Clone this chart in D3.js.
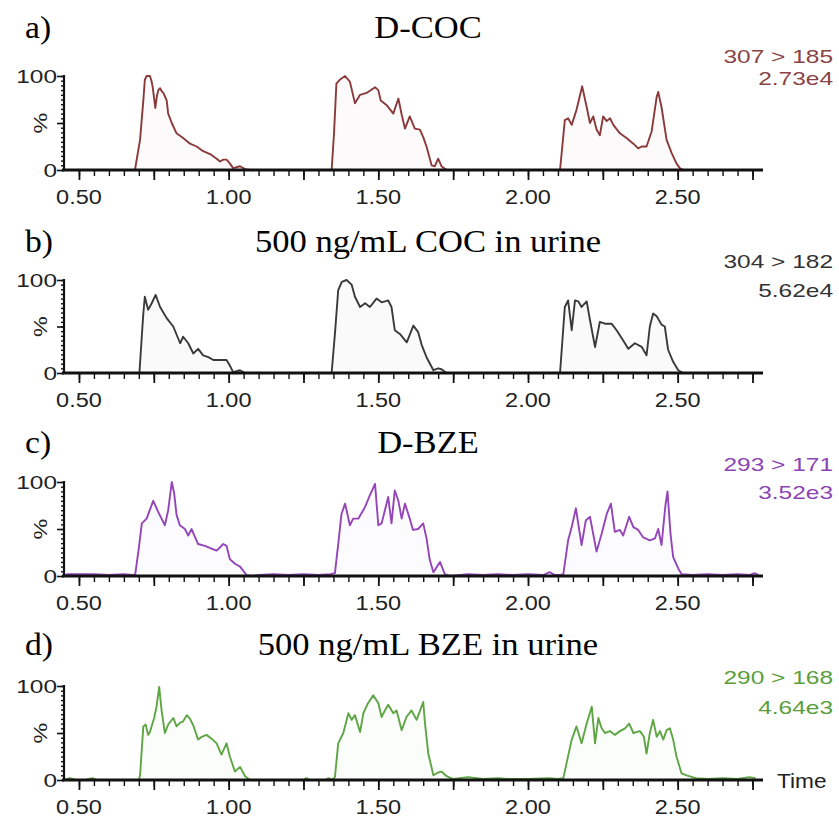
<!DOCTYPE html>
<html>
<head>
<meta charset="utf-8">
<script src="https://cdn.jsdelivr.net/npm/d3@7"></script>
<style>
  body { margin: 0; background: #fff; }
</style>
</head>
<body>
<svg id="chart" width="839" height="818"></svg>
<script>
// labels
const panelLetters = ["a)", "b)", "c)", "d)"];
const panelTitles = ["D-COC", "500 ng/mL COC in urine", "D-BZE", "500 ng/mL BZE in urine"];
const transitions = ["307 > 185", "304 > 182", "293 > 171", "290 > 168"];
const intensities = ["2.73e4", "5.62e4", "3.52e3", "4.64e3"];
const xTickValues = [0.5, 1.0, 1.5, 2.0, 2.5];
const xTickLabels = ["0.50", "1.00", "1.50", "2.00", "2.50"];
const yTickValues = [0, 100];
const yTickLabels = ["0", "100"];

// traces: [time (min), relative intensity (%)]
const traceA = [
  [0.45,0],[0.687,0],[0.704,32],[0.715,74],[0.720,96],[0.726,100],[0.737,100],[0.742,95],[0.746,89],
  [0.755,66],[0.760,78],[0.765,85],[0.771,87],[0.776,84],[0.782,82],[0.793,74],[0.798,60],[0.810,50],
  [0.826,39],[0.848,34],[0.871,28],[0.893,25],[0.915,20],[0.938,17],[0.960,12],[0.971,9],[0.982,11],
  [0.993,11],[1.004,7],[1.015,2],[1.038,4],[1.055,1],[1.071,0],
  [1.344,0],[1.352,39],[1.360,92],[1.371,96],[1.389,100],[1.405,94],[1.422,71],[1.439,80],[1.461,82],
  [1.489,88],[1.500,85],[1.508,74],[1.528,69],[1.550,60],[1.567,76],[1.578,59],[1.589,44],[1.605,57],
  [1.622,44],[1.639,43],[1.650,35],[1.661,25],[1.678,5],[1.689,4],[1.700,12],[1.711,4],[1.728,0],
  [2.107,0],[2.123,53],[2.134,55],[2.146,48],[2.162,64],[2.181,89],[2.196,67],[2.207,50],[2.218,57],
  [2.229,43],[2.240,37],[2.251,57],[2.263,52],[2.274,55],[2.285,48],[2.307,39],[2.329,34],[2.352,28],
  [2.368,23],[2.380,25],[2.396,25],[2.413,41],[2.430,78],[2.435,83],[2.446,67],[2.463,32],[2.480,18],
  [2.496,7],[2.507,2],[2.518,0],[2.775,0]
];
const traceB = [
  [0.45,0],[0.702,0],[0.710,40],[0.715,64],[0.720,82],[0.731,68],[0.743,75],[0.756,84],[0.771,71],
  [0.793,59],[0.815,50],[0.838,32],[0.848,39],[0.865,32],[0.882,21],[0.898,26],[0.915,19],[0.932,17],
  [0.949,14],[0.971,14],[0.993,14],[1.004,8],[1.015,1],[1.038,3],[1.055,0],
  [1.344,0],[1.355,42],[1.366,89],[1.378,98],[1.394,100],[1.411,95],[1.422,82],[1.439,71],[1.456,75],
  [1.472,71],[1.494,80],[1.511,76],[1.533,78],[1.544,71],[1.555,46],[1.572,42],[1.595,33],[1.617,51],
  [1.633,44],[1.645,30],[1.661,17],[1.684,3],[1.700,5],[1.711,4],[1.728,0],
  [2.107,0],[2.123,71],[2.134,78],[2.146,46],[2.157,78],[2.168,77],[2.179,71],[2.196,77],[2.207,57],
  [2.224,28],[2.240,55],[2.257,53],[2.279,53],[2.296,46],[2.318,35],[2.335,26],[2.357,32],[2.380,28],
  [2.396,19],[2.407,50],[2.418,64],[2.430,61],[2.446,52],[2.457,50],[2.468,25],[2.485,12],[2.502,3],
  [2.518,0],[2.775,0]
];
const traceC = [
  [0.45,0],[0.46,2],[0.50,2],[0.55,2],[0.60,1],[0.65,2],[0.68,1],
  [0.688,2],[0.700,30],[0.710,56],[0.726,61],[0.748,80],[0.765,68],[0.787,54],[0.798,70],[0.810,100],
  [0.818,88],[0.826,65],[0.837,54],[0.854,50],[0.865,43],[0.876,50],[0.887,42],[0.898,34],[0.921,32],
  [0.943,29],[0.960,27],[0.982,34],[0.993,32],[1.004,18],[1.021,13],[1.038,10],[1.060,1],[1.077,0],
  [1.10,1],[1.15,2],[1.20,1],[1.25,2],[1.30,1],[1.34,2],
  [1.355,3],[1.366,34],[1.377,66],[1.389,77],[1.405,54],[1.416,61],[1.433,61],[1.455,73],[1.472,86],
  [1.489,98],[1.500,54],[1.511,56],[1.522,70],[1.533,84],[1.544,56],[1.555,91],[1.567,80],[1.578,61],
  [1.589,77],[1.605,61],[1.616,49],[1.633,50],[1.650,56],[1.661,40],[1.672,17],[1.684,4],[1.706,15],
  [1.722,2],[1.739,0],[1.80,2],[1.85,1],[1.90,2],[1.95,1],[2.00,2],[2.05,1],[2.073,4],[2.09,1],[2.105,1],
  [2.118,2],[2.134,38],[2.146,52],[2.160,72],[2.179,33],[2.193,59],[2.207,63],[2.229,26],[2.246,45],
  [2.263,66],[2.277,77],[2.290,47],[2.307,49],[2.318,43],[2.338,63],[2.352,52],[2.368,49],[2.385,41],
  [2.407,38],[2.424,40],[2.435,50],[2.446,33],[2.459,75],[2.466,90],[2.476,45],[2.485,20],[2.502,8],
  [2.513,2],[2.55,1],[2.60,2],[2.65,1],[2.70,2],[2.74,1],[2.757,3],[2.77,1]
];
const traceD = [
  [0.45,0],[0.47,2],[0.49,0],[0.52,0],[0.545,2],[0.56,0],[0.70,0],
  [0.704,5],[0.715,57],[0.723,59],[0.731,48],[0.737,51],[0.751,66],[0.759,78],[0.768,99],[0.776,74],
  [0.787,50],[0.798,59],[0.815,66],[0.826,57],[0.838,61],[0.847,62],[0.860,69],[0.871,65],[0.882,58],
  [0.898,43],[0.910,46],[0.926,48],[0.943,44],[0.960,39],[0.976,27],[0.993,39],[1.004,25],[1.021,9],
  [1.038,14],[1.055,4],[1.071,0],[1.25,0],[1.26,2],[1.27,0],[1.325,0],[1.333,2],[1.345,0],
  [1.355,3],[1.366,39],[1.383,50],[1.400,71],[1.411,64],[1.422,69],[1.439,51],[1.450,71],[1.466,82],
  [1.483,90],[1.500,82],[1.511,67],[1.522,74],[1.533,80],[1.550,71],[1.561,74],[1.578,53],[1.594,67],
  [1.611,74],[1.628,64],[1.650,83],[1.656,60],[1.667,28],[1.684,5],[1.700,8],[1.711,9],[1.728,4],
  [1.75,1],[1.80,3],[1.85,1],[1.90,2],[1.93,1],[2.00,1],[2.07,2],[2.10,1],
  [2.118,2],[2.146,43],[2.162,57],[2.179,39],[2.196,60],[2.213,78],[2.224,39],[2.235,66],[2.246,55],
  [2.257,50],[2.274,52],[2.290,48],[2.307,52],[2.324,55],[2.338,60],[2.352,50],[2.374,52],[2.387,46],
  [2.396,28],[2.407,50],[2.418,64],[2.430,46],[2.441,52],[2.452,43],[2.463,53],[2.474,55],[2.485,43],
  [2.496,25],[2.513,7],[2.530,5],[2.56,2],[2.60,1],[2.65,2],[2.70,1],[2.74,3],[2.76,2]
];
const traces = [traceA, traceB, traceC, traceD];
const traceColors = ["#8a3a3a", "#3a3a3a", "#9445b8", "#5ea544"];
const infoColors = ["#8a4444", "#333333", "#8c45b4", "#5a9e3c"];

// panel placement (pixels)
const base = [170, 373, 576, 780];      // y of 0 %
const top100 = [76, 280, 482, 686];     // y of 100 %
const titleY = [38, 252, 453, 655];
const info1Y = [63, 268, 471, 684];
const info2Y = [85, 297, 499, 714];

const svg = d3.select("#chart");
const sans = "Liberation Sans, Arial, sans-serif";
const serif = "Liberation Serif, Times New Roman, serif";

const x = d3.scaleLinear().domain([0.45, 2.775]).range([64, 760]);

// text squeezed/stretched horizontally like the scanned figure
function label(g, px, py, txt, opts) {
  g.append("text")
    .attr("transform", `translate(${px},${py}) scale(${opts.sx || 1},1)`)
    .attr("text-anchor", opts.anchor || "start")
    .attr("font-family", opts.family || sans)
    .attr("font-size", opts.size)
    .attr("fill", opts.color || "#222")
    .text(txt);
}

traces.forEach((data, i) => {
  const g = svg.append("g");
  const y = d3.scaleLinear().domain([0, 100]).range([base[i], top100[i]]);

  // headings
  label(g, 25, titleY[i], panelLetters[i], { size: 32, family: serif, color: "#000", sx: 1.05 });
  label(g, 428, titleY[i], panelTitles[i], { size: 32, family: serif, color: "#000", anchor: "middle", sx: 1.08 });
  label(g, 833, info1Y[i], transitions[i], { size: 18, anchor: "end", sx: 1.36, color: infoColors[i] });
  label(g, 833, info2Y[i], intensities[i], { size: 18, anchor: "end", sx: 1.36, color: infoColors[i] });

  // trace
  const area = d3.area().x(d => x(d[0])).y0(base[i]).y1(d => y(d[1]));
  const line = d3.line().x(d => x(d[0])).y(d => y(d[1]));
  g.append("path").attr("d", area(data)).attr("fill", traceColors[i]).attr("opacity", 0.025);
  g.append("path").attr("d", line(data)).attr("fill", "none")
    .attr("stroke", traceColors[i]).attr("stroke-width", 1.9).attr("stroke-linejoin", "round");

  // y axis
  const minorY = d3.range(0, 101, 5);
  g.append("g").attr("transform", `translate(64,0)`)
    .call(d3.axisLeft(y).tickValues(minorY).tickSize(3).tickFormat(""))
    .call(a => a.select(".domain").remove())
    .call(a => a.selectAll("line").attr("stroke", "#111").attr("stroke-width", 1.4));
  g.append("g").attr("transform", `translate(64,0)`)
    .call(d3.axisLeft(y).tickValues([0, 50, 100]).tickSize(7).tickFormat(""))
    .call(a => a.select(".domain").remove())
    .call(a => a.selectAll("line").attr("stroke", "#111").attr("stroke-width", 1.6));
  g.append("line").attr("x1", 64).attr("x2", 64).attr("y1", top100[i] - 1).attr("y2", base[i])
    .attr("stroke", "#111").attr("stroke-width", 2.2);
  yTickValues.forEach((v, k) => {
    label(g, 57, y(v) + 7, yTickLabels[k], { size: 18, anchor: "end", sx: 1.36 });
  });
  g.append("text")
    .attr("transform", `translate(47,${y(50)}) rotate(-90) scale(1.3,1)`)
    .attr("text-anchor", "middle")
    .attr("font-family", sans).attr("font-size", 18).attr("fill", "#222")
    .text("%");

  // x axis
  const minorX = d3.range(0.5, 2.76, 0.05);
  const majorX = d3.range(0.5, 2.76, 0.25);
  g.append("g").attr("transform", `translate(0,${base[i]})`)
    .call(d3.axisBottom(x).tickValues(minorX).tickSize(6).tickFormat(""))
    .call(a => a.select(".domain").remove())
    .call(a => a.selectAll("line").attr("stroke", "#111").attr("stroke-width", 1.4));
  g.append("g").attr("transform", `translate(0,${base[i]})`)
    .call(d3.axisBottom(x).tickValues(majorX).tickSize(10).tickFormat(""))
    .call(a => a.select(".domain").remove())
    .call(a => a.selectAll("line").attr("stroke", "#111").attr("stroke-width", 1.8));
  g.append("line").attr("x1", 62).attr("x2", 763).attr("y1", base[i]).attr("y2", base[i])
    .attr("stroke", "#111").attr("stroke-width", 3);
  xTickValues.forEach((v, k) => {
    label(g, x(v), base[i] + 34, xTickLabels[k], { size: 21, anchor: "middle", sx: 1.12 });
  });
  if (i === 3) {
    label(g, 777, base[i] + 8, "Time", { size: 21, sx: 1.08 });
  }
});
</script>
</body>
</html>
